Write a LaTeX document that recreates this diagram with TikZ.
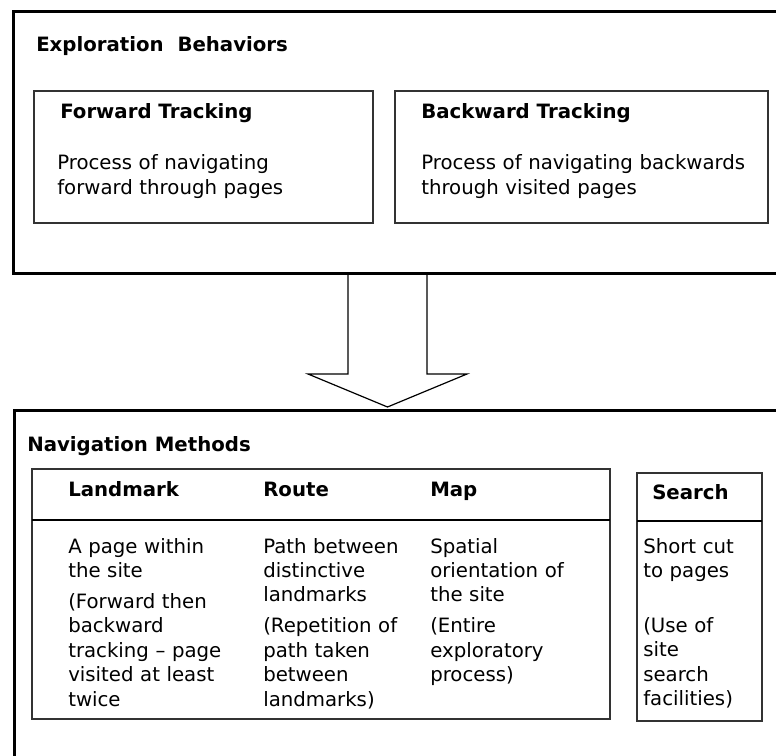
\documentclass[tikz,border=0pt]{standalone}
\usepackage{fontspec}
\setmainfont{DejaVu Sans}
\usetikzlibrary{calc}

\begin{document}
\begin{tikzpicture}[x=0.75pt,y=-0.75pt,
  outer/.style={draw,line width=2.25pt},
  inner/.style={draw=black!80,line width=1pt},
  title/.style={font=\fontsize{14.8pt}{18.3pt}\selectfont\bfseries,
    anchor=base west,inner sep=0pt},
  body/.style={font=\fontsize{14.8pt}{18.3pt}\selectfont,
    anchor=base west,inner sep=0pt,text width=#1,align=left},
  body/.default=130pt]

  \useasboundingbox (0,0) rectangle (776,756);
  \clip (0,0) rectangle (776,756);

  % exploration behaviors
  \draw[outer] (13,12) rectangle (800,274);
  \node[title] (explore) at (36,52) {Exploration~~Behaviors};
  \draw[inner] (34,91) rectangle (373,223);
  \node[title] (fwd) at (60,119) {Forward Tracking};
  \node[body=200pt] (fwdtext) at (57,170) {Process of navigating\\forward through pages};
  \draw[inner] (395,91) rectangle (768,223);
  \node[title] (bwd) at (421,119) {Backward Tracking};
  \node[body=260pt] (bwdtext) at (421,170) {Process of navigating backwards\\through visited pages};

  % block arrow between the two sections
  \coordinate (tail) at (387.5,274);
  \coordinate (tip) at (387.5,407);
  \draw[line width=0.9pt,line join=miter]
    ($(tail)+(-39.5,0)$) -- ++(0,100) -- ++(-40,0) -- (tip)
    -- ++(79.5,-33) -- ++(-40,0) -- ($(tail)+(39.5,0)$);

  % navigation methods
  \draw[outer] (14,411) rectangle (800,800);
  \node[title] (nav) at (27,451) {Navigation Methods};
  \draw[inner,line width=1.1pt] (32,469) rectangle (610,719);
  \draw[line width=1.5pt] (32,520) -- (610,520);
  \node[title] (landmark) at (68,497) {Landmark};
  \node[title] (route) at (263,497) {Route};
  \node[title] (map) at (430,497) {Map};
  \node[body] (landmarktext) at (68,553)
    {A page within\\the site\\[5pt](Forward then\\backward\\tracking – page\\visited at least\\twice};
  \node[body] (routetext) at (263,553)
    {Path between\\distinctive\\landmarks\\[5pt](Repetition of\\path taken\\between\\landmarks)};
  \node[body] (maptext) at (430,553)
    {Spatial\\orientation of\\the site\\[5pt](Entire\\exploratory\\process)};

  \draw[inner,line width=1.1pt] (637,473) rectangle (762,721);
  \draw[line width=1.5pt] (637,521) -- (762,521);
  \node[title] (search) at (652,499) {Search};
  \node[body=100pt] (searchtext) at (643,553)
    {Short cut\\to pages\\[23pt](Use of\\site\\search\\facilities)};
\end{tikzpicture}
\end{document}
